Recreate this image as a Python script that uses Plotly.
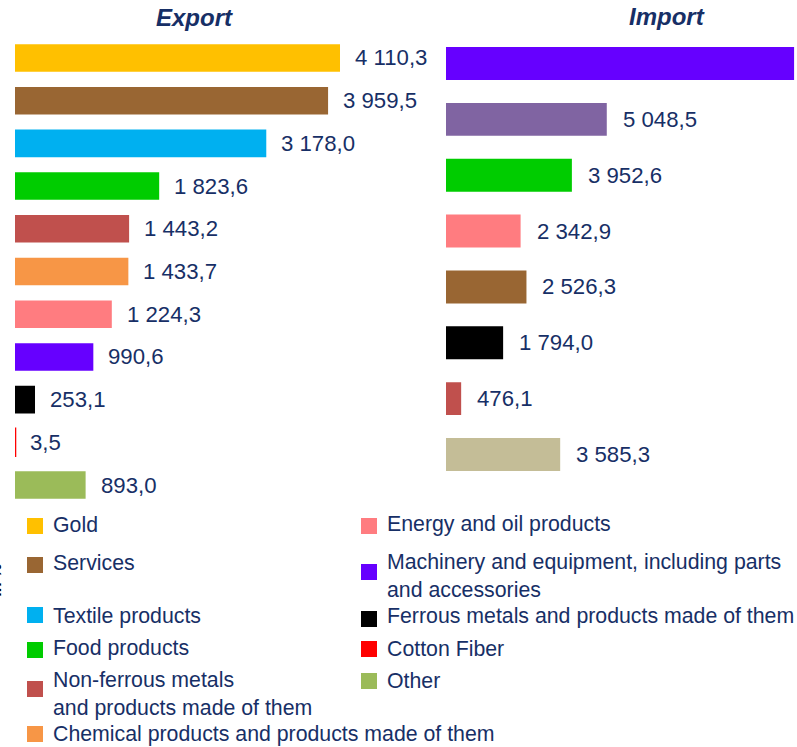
import plotly.graph_objs as go

# Export / Import structure chart (bars + hand placed legend)

W, H = 797, 747

# 1) data
export_cats = ['Gold', 'Services', 'Textile products', 'Food products',
               'Non-ferrous metals', 'Chemical products', 'Energy and oil products',
               'Machinery and equipment', 'Ferrous metals', 'Cotton Fiber', 'Other']
export_vals = [4110.3, 3959.5, 3178.0, 1823.6, 1443.2, 1433.7, 1224.3, 990.6, 253.1, 3.5, 893.0]
export_colors = ['#FFC000', '#996633', '#00B0F0', '#00CC00', '#C0504D', '#F79646',
                 '#FF7C80', '#6600FF', '#000000', '#FF0000', '#9BBB59']

import_cats = ['Machinery and equipment', 'Chemical products', 'Food products',
               'Energy and oil products', 'Services', 'Ferrous metals',
               'Non-ferrous metals', 'Other']
import_vals = [10930.0, 5048.5, 3952.6, 2342.9, 2526.3, 1794.0, 476.1, 3585.3]
import_colors = ['#6600FF', '#8064A2', '#00CC00', '#FF7C80', '#996633', '#000000',
                 '#C0504D', '#C4BD97']

legend_labels = ['Gold', 'Services', 'Textile products', 'Food products',
                 'Non-ferrous metals<br>and products made of them',
                 'Chemical products and products made of them',
                 'Energy and oil products',
                 'Machinery and equipment, including parts<br>and accessories',
                 'Ferrous metals and products made of them',
                 'Cotton Fiber', 'Other']
legend_colors = ['#FFC000', '#996633', '#00B0F0', '#00CC00', '#C0504D', '#F79646',
                 '#FF7C80', '#6600FF', '#000000', '#FF0000', '#9BBB59']

NAVY = '#172F66'
FONT = 'Liberation Sans, Arial, sans-serif'


def fx(px):
    return px / W


def fy(py):
    return 1 - py / H


def fmt(v):
    return '{:,.1f}'.format(v).replace(',', ' ').replace('.', ',')


# 2) bars
exp_max = 425 * 12.647
imp_max = 351 * 31.4

traces = []
traces.append(go.Bar(x=export_vals, y=export_cats, orientation='h', width=0.645,
                     marker=dict(color=export_colors,
                                 line=dict(color=export_colors,
                                           width=[2 if v < 50 else 0 for v in export_vals])),
                     xaxis='x', yaxis='y', hoverinfo='x+y', showlegend=False))
traces.append(go.Bar(x=import_vals, y=import_cats, orientation='h', width=0.59,
                     marker=dict(color=import_colors, line=dict(width=0)),
                     xaxis='x2', yaxis='y2', hoverinfo='x+y', showlegend=False))

fig = go.Figure(data=traces)

ax = dict(visible=False, showgrid=False, zeroline=False, fixedrange=True)
fig.update_layout(
    width=W, height=H, autosize=False,
    margin=dict(l=0, r=0, t=0, b=0),
    paper_bgcolor='white', plot_bgcolor='white',
    font=dict(family=FONT, color=NAVY, size=21),
    showlegend=False,
    xaxis=dict(ax, domain=[fx(15), fx(440)], range=[0, exp_max]),
    yaxis=dict(ax, domain=[fy(506.4), fy(36.6)], type='category',
               range=[len(export_cats) - 0.5, -0.5]),
    xaxis2=dict(ax, domain=[fx(446), 1], range=[0, imp_max], anchor='y2'),
    yaxis2=dict(ax, domain=[fy(482.4), fy(35.6)], type='category',
                range=[len(import_cats) - 0.5, -0.5], anchor='x2'),
)

# value labels (the big import bar runs off the picture, its label with it)
anns = []
for c, v in zip(export_cats, export_vals):
    anns.append(dict(x=v, y=c, xref='x', yref='y', text=fmt(v), showarrow=False,
                     xanchor='left', yanchor='middle', xshift=13,
                     font=dict(size=22.2, color=NAVY)))
for c, v in zip(import_cats, import_vals):
    if v > imp_max * 0.9:
        continue
    anns.append(dict(x=v, y=c, xref='x2', yref='y2', text=fmt(v), showarrow=False,
                     xanchor='left', yanchor='middle', xshift=14,
                     font=dict(size=22.2, color=NAVY)))

# titles
anns.append(dict(x=fx(194), y=fy(18), xref='paper', yref='paper', text='<b><i>Export</i></b>',
                 showarrow=False, xanchor='center', yanchor='middle',
                 font=dict(size=24, color=NAVY)))
anns.append(dict(x=fx(667), y=fy(17), xref='paper', yref='paper', text='<b><i>Import</i></b>',
                 showarrow=False, xanchor='center', yanchor='middle',
                 font=dict(size=24, color=NAVY)))
anns.append(dict(x=fx(-5), y=fy(580), xref='paper', yref='paper', text='<b><i>in %</i></b>',
                 textangle=-90, showarrow=False, xanchor='center', yanchor='middle',
                 font=dict(size=16, color='#000000')))

# 3) legend, two columns placed by hand
sq_x = [27] * 6 + [361] * 5
txt_y = [525, 563, 616, 648, 694, 734, 524, 576, 616, 649, 681]
sq_y = [526, 565, 615, 650, 689, 734, 526, 572, 619, 649, 681]
shapes = []
for lab, col, x0, ty, sy in zip(legend_labels, legend_colors, sq_x, txt_y, sq_y):
    shapes.append(dict(type='rect', xref='paper', yref='paper',
                       x0=fx(x0), x1=fx(x0 + 16), y0=fy(sy + 8), y1=fy(sy - 8),
                       fillcolor=col, line=dict(width=0)))
    anns.append(dict(x=fx(x0 + 24), y=fy(ty), xref='paper', yref='paper', text=lab,
                     showarrow=False, xanchor='left', yanchor='middle', align='left',
                     font=dict(size=21.3, color=NAVY)))

fig.update_layout(annotations=anns, shapes=shapes)
fig.write_html('out.html', config={'displayModeBar': False},
               post_script="document.body.style.margin='0';")
